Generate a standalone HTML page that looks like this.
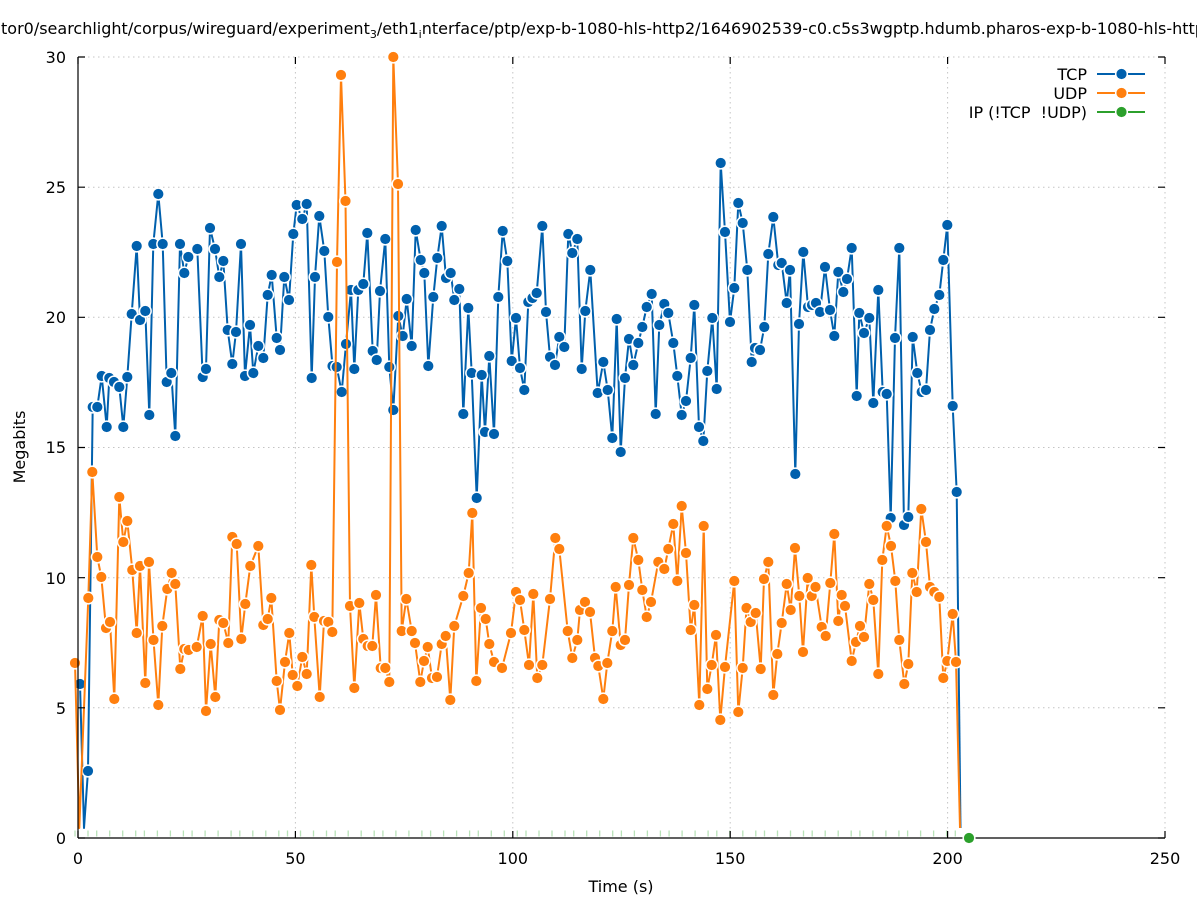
<!DOCTYPE html>
<html>
<head>
<meta charset="utf-8">
<style>
  html,body{margin:0;padding:0;background:#fff;}
  svg{display:block;}
  text{font-family:"DejaVu Sans","Liberation Sans",sans-serif;font-size:16px;fill:#000;}
</style>
</head>
<body>
<svg width="1197" height="900" viewBox="0 0 1197 900" xmlns="http://www.w3.org/2000/svg">
  <defs>
    <marker id="mb" markerWidth="16" markerHeight="16" refX="8" refY="8" markerUnits="userSpaceOnUse" overflow="visible">
      <circle cx="8" cy="8" r="6.6" fill="#fff"/>
      <circle cx="8" cy="8" r="5.1" fill="#0060ad"/>
    </marker>
    <marker id="mo" markerWidth="16" markerHeight="16" refX="8" refY="8" markerUnits="userSpaceOnUse" overflow="visible">
      <circle cx="8" cy="8" r="6.6" fill="#fff"/>
      <circle cx="8" cy="8" r="5.1" fill="#ff7f0e"/>
    </marker>
  </defs>

  <rect width="1197" height="900" fill="#fff"/>

  <!-- title -->
  <text x="1" y="34" xml:space="preserve">tor0/searchlight/corpus/wireguard/experiment<tspan font-size="11" dy="4">3</tspan><tspan dy="-4">/eth1</tspan><tspan font-size="11" dy="4">i</tspan><tspan dy="-4">nterface/ptp/exp-b-1080-hls-http2/1646902539-c0.c5s3wgptp.hdumb.pharos-exp-b-1080-hls-http2-ptp.pcap</tspan></text>

  <!-- grid -->
  <g stroke="#c4c4c4" stroke-width="1" stroke-dasharray="1.5,3.5" fill="none">
    <line x1="78" y1="707.8" x2="1165" y2="707.8"/>
    <line x1="78" y1="577.7" x2="1165" y2="577.7"/>
    <line x1="78" y1="447.5" x2="1165" y2="447.5"/>
    <line x1="78" y1="317.3" x2="1165" y2="317.3"/>
    <line x1="78" y1="187.2" x2="1165" y2="187.2"/>
    <line x1="78" y1="57" x2="1165" y2="57"/>
    <line x1="295.4" y1="57" x2="295.4" y2="838"/>
    <line x1="512.8" y1="57" x2="512.8" y2="838"/>
    <line x1="730.2" y1="57" x2="730.2" y2="838"/>
    <line x1="947.6" y1="57" x2="947.6" y2="838"/>
    <line x1="1165" y1="57" x2="1165" y2="838"/>
  </g>

  <!-- TCP series -->
  <g fill="none" stroke="#0060ad" stroke-width="2" stroke-linejoin="round">
    <polyline points="80,684 84,828 88,771"/>
    <polyline points="956.7,492 960.5,828"/>
    <polyline marker-start="url(#mb)" marker-mid="url(#mb)" marker-end="url(#mb)" points="88,771 92.7,407 97.3,407 101.7,376 106.7,427 109.3,378 114,382 119.3,387 123.3,427 127.3,377 131.7,314 136.7,246 140,320 145.3,311 149.3,415 153.3,244 158.3,194 162.7,244 166.7,382 171.3,373 175.3,436 180,244 184.3,273 188.3,257 197.3,249 202.7,377 206,369 210,228 215,249 219.3,277 223.3,261 227.7,330 232.3,364 236,332 241,244 245,376 250,325 253.3,373 258.3,346 263.3,358 267.7,295 271.7,275 276.7,338 280,350 284.3,277 289,300 293.3,234 296.7,205 302.3,219 306.7,204 311.7,378 315,277 319.3,216 324.3,251 328.3,317 332.5,366 336.7,367 341.7,392 346,344 351,290 354.3,369 358.3,290 363.3,284 367.3,233 372.7,351 376.7,360 380,291 385.3,239 389.3,367 393.3,410 398.3,316 402.7,336 406.7,299 411.7,346 415.7,230 420.7,260 424.3,273 428.3,366 433.3,297 437.3,258 441.7,226 446,278 450.7,273 454.3,300 459.3,289 463.3,414 468.3,308 471.7,373 476.7,498 481.7,375 485,432 489.3,356 494,434 498.3,297 502.7,231 507.3,261 511.7,361 516,318 520,368 524.3,390 528.3,302 532.5,298 536.7,293 542.3,226 546,312 550,357 555,365 559.3,337 564.3,347 568.3,234 572.3,253 577.3,239 581.7,369 585.3,311 590.3,270 597.7,393 603.3,362 607.7,390 612.3,438 616.7,319 620.7,452 625,378 629,339 633.3,365 638.3,343 642.3,327 646.7,307 651.7,294 655.7,414 659.3,325 664.3,304 668.3,313 673.3,343 677.3,376 681.7,415 686,401 690.7,358 694.3,305 699,427 703.3,441 707.3,371 712.3,318 716.7,389 720.7,163 725,232 730,322 734.3,288 738.3,203 742.7,223 747.3,270 751.7,362 755,348 760,350 764.3,327 768.3,254 773.3,217 778.3,265 781.7,263 786.7,303 790,270 795.3,474 799,324 803.3,252 808,307 812,305 816,303 820,312 825,267 830,310 834.3,336 838.3,272 843.3,292 847,279 851.7,248 856.7,396 859.3,313 864,333 869.3,318 873.3,403 878.3,290 882.7,392 886.7,394 890.7,518 895,338 899.3,248 904,525 908.3,517 912.7,337 917.3,373 921.7,392 926,390 930,330 934.3,309 939.3,295 943.3,260 947.3,225 952.7,406 956.7,492"/>
  </g>
  <circle cx="80" cy="684" r="6.6" fill="#fff"/>
  <circle cx="80" cy="684" r="5.1" fill="#0060ad"/>

  <!-- UDP series -->
  <g fill="none" stroke="#ff7f0e" stroke-width="2" stroke-linejoin="round">
    <polyline points="75,663 79.3,828 88.3,598"/>
    <polyline points="956,662 960,828"/>
    <polyline marker-start="url(#mo)" marker-mid="url(#mo)" marker-end="url(#mo)" points="88.3,598 92.3,472 97.3,557 101.3,577 106,628 110,622 114.3,699 119.3,497 123.3,542 127.3,521 132.3,570 136.7,633 140,566 145.3,683 149,562 153.5,640 158.3,705 162.3,626 167.3,589 171.7,573 175.3,584 180.3,669 184.3,649 188.7,650 196.7,647 202.7,616 206,711 210.7,644 215.3,697 219.3,620 223.3,623 228.3,643 232.3,537 236.7,544 241.3,639 245.3,604 250.3,566 258.3,546 263.3,625 267.7,619 271.3,598 276.7,681 280,710 285,662 289.3,633 292.7,675 297.3,686 302.3,657 306.7,674 311.3,565 314.3,617 319.7,697 324,621 328.3,622 332.3,632 337,262 341,75 345.5,201 350,606 354.3,688 359.3,603 363.3,639 367.7,646 372.3,646 376,595 380.7,668 385.3,668 389.3,682 393.3,57 398,184 401.7,631 406.3,599 411.7,631 415,643 420.3,682 424,661 427.7,647 432,678 437,677 441.7,644 445.7,636 450.3,700 454.3,626 463.3,596 468.7,573 472.3,513 476.3,681 481,608 485.7,619 489.3,644 494,662 502,668 511,633 516,592 520,600 524.3,630 529,665 533.3,594 537.3,678 542.3,665 550,599 555.3,538 559.3,549 567.7,631 572.3,658 577.3,640 580,610 585,602 590,612 595,658 598.3,666 603.3,699 607.3,663 612.3,631 615.7,587 620.7,645 625,640 629,585 633.3,538 638.3,560 642.3,590 646.7,617 651,602 658.3,562 664.3,569 668.3,549 673.3,524 677.3,581 681.7,506 686,553 690.7,630 694.3,605 699.3,705 703.7,526 707.3,689 711.7,665 716,635 720.3,720 725,667 734.3,581 738.3,712 742.7,668 746.5,608 750.7,622 755.7,613 760.7,669 764,579 768.3,562 773.3,695 777.3,654 781.7,623 786.7,584 790.7,610 795,548 799.3,596 803,652 807.7,578 811.7,596 815.5,587 821.7,627 825.7,636 830.3,583 834.3,534 838.3,621 841.7,595 845,606 851.7,661 856,642 860,626 864,637 869.3,584 873.3,600 878.3,674 882.3,560 886.7,526 891,546 895.3,581 899.3,640 904.3,684 908.3,664 912.3,573 916.7,592 921.3,509 926,542 930,587 934.3,592 939.3,597 943.3,678 947.3,661 952.7,614 956,662"/>
  </g>
  <circle cx="75" cy="663" r="6.6" fill="#fff"/>
  <circle cx="75" cy="663" r="5.1" fill="#ff7f0e"/>

  <!-- IP series marks along zero -->
  <g stroke="#b8e2b8" stroke-width="1.3" fill="none">
    <path d="M75,830.5v6 M88,830.5v6 M96.7,830.5v6 M109.7,830.5v6 M122.7,830.5v6 M135.7,830.5v6 M144.4,830.5v6 M157.4,830.5v6 M170.4,830.5v6 M183.4,830.5v6 M192.1,830.5v6 M205.1,830.5v6 M218.1,830.5v6 M231.1,830.5v6 M239.8,830.5v6 M252.8,830.5v6 M265.8,830.5v6 M278.8,830.5v6 M287.5,830.5v6 M300.5,830.5v6 M313.5,830.5v6 M326.5,830.5v6 M335.2,830.5v6 M348.2,830.5v6 M361.2,830.5v6 M374.2,830.5v6 M382.9,830.5v6 M395.9,830.5v6 M408.9,830.5v6 M421.9,830.5v6 M430.6,830.5v6 M443.6,830.5v6 M456.6,830.5v6 M469.6,830.5v6 M478.3,830.5v6 M491.3,830.5v6 M504.3,830.5v6 M517.3,830.5v6 M526,830.5v6 M539,830.5v6 M552,830.5v6 M565,830.5v6 M573.7,830.5v6 M586.7,830.5v6 M599.7,830.5v6 M612.7,830.5v6 M621.4,830.5v6 M634.4,830.5v6 M647.4,830.5v6 M660.4,830.5v6 M669.1,830.5v6 M682.1,830.5v6 M695.1,830.5v6 M708.1,830.5v6 M716.8,830.5v6 M729.8,830.5v6 M742.8,830.5v6 M755.8,830.5v6 M764.5,830.5v6 M777.5,830.5v6 M790.5,830.5v6 M803.5,830.5v6 M812.2,830.5v6 M825.2,830.5v6 M838.2,830.5v6 M851.2,830.5v6 M859.9,830.5v6 M872.9,830.5v6 M885.9,830.5v6 M898.9,830.5v6 M907.6,830.5v6 M920.6,830.5v6 M933.6,830.5v6 M946.6,830.5v6 M955.3,830.5v6"/>
  </g>

  <!-- axes border (left + bottom) -->
  <g stroke="#000" stroke-width="1.2" fill="none">
    <line x1="78" y1="57" x2="78" y2="838"/>
    <line x1="78" y1="838" x2="1165" y2="838"/>
    <path d="M78,838h7 M78,707.8h7 M78,577.7h7 M78,447.5h7 M78,317.3h7 M78,187.2h7 M78,57h7"/>
    <path d="M1165,838h-7 M1165,707.8h-7 M1165,577.7h-7 M1165,447.5h-7 M1165,317.3h-7 M1165,187.2h-7 M1165,57h-7"/>
    <path d="M78,838v-7 M295.4,838v-7 M512.8,838v-7 M730.2,838v-7 M947.6,838v-7 M1165,838v-7"/>
    <path d="M78,57v7 M295.4,57v7 M512.8,57v7 M730.2,57v7 M947.6,57v7 M1165,57v7"/>
  </g>

  <!-- green IP end point -->
  <circle cx="969" cy="838" r="6.6" fill="#fff"/>
  <circle cx="969" cy="838" r="5.1" fill="#2ca02c"/>

  <!-- y tick labels -->
  <g text-anchor="end">
    <text x="66" y="844">0</text>
    <text x="66" y="714">5</text>
    <text x="66" y="584">10</text>
    <text x="66" y="453">15</text>
    <text x="66" y="323">20</text>
    <text x="66" y="193">25</text>
    <text x="66" y="63">30</text>
  </g>
  <!-- x tick labels -->
  <g text-anchor="middle">
    <text x="78" y="864">0</text>
    <text x="295.4" y="864">50</text>
    <text x="512.8" y="864">100</text>
    <text x="730.2" y="864">150</text>
    <text x="947.6" y="864">200</text>
    <text x="1165" y="864">250</text>
  </g>

  <!-- axis labels -->
  <text x="621" y="892" text-anchor="middle">Time (s)</text>
  <text transform="translate(25,447) rotate(-90)" text-anchor="middle">Megabits</text>

  <!-- legend -->
  <g text-anchor="end">
    <text x="1087" y="80">TCP</text>
    <text x="1087" y="99">UDP</text>
    <text x="1087" y="118" xml:space="preserve">IP (!TCP  !UDP)</text>
  </g>
  <g stroke-width="2">
    <line x1="1097" y1="74" x2="1145" y2="74" stroke="#0060ad"/>
    <line x1="1097" y1="93" x2="1145" y2="93" stroke="#ff7f0e"/>
    <line x1="1097" y1="112" x2="1145" y2="112" stroke="#2ca02c"/>
  </g>
  <circle cx="1121.5" cy="74" r="6.6" fill="#fff"/>
  <circle cx="1121.5" cy="74" r="5.1" fill="#0060ad"/>
  <circle cx="1121.5" cy="93" r="6.6" fill="#fff"/>
  <circle cx="1121.5" cy="93" r="5.1" fill="#ff7f0e"/>
  <circle cx="1121.5" cy="112" r="6.6" fill="#fff"/>
  <circle cx="1121.5" cy="112" r="5.1" fill="#2ca02c"/>
</svg>
</body>
</html>
